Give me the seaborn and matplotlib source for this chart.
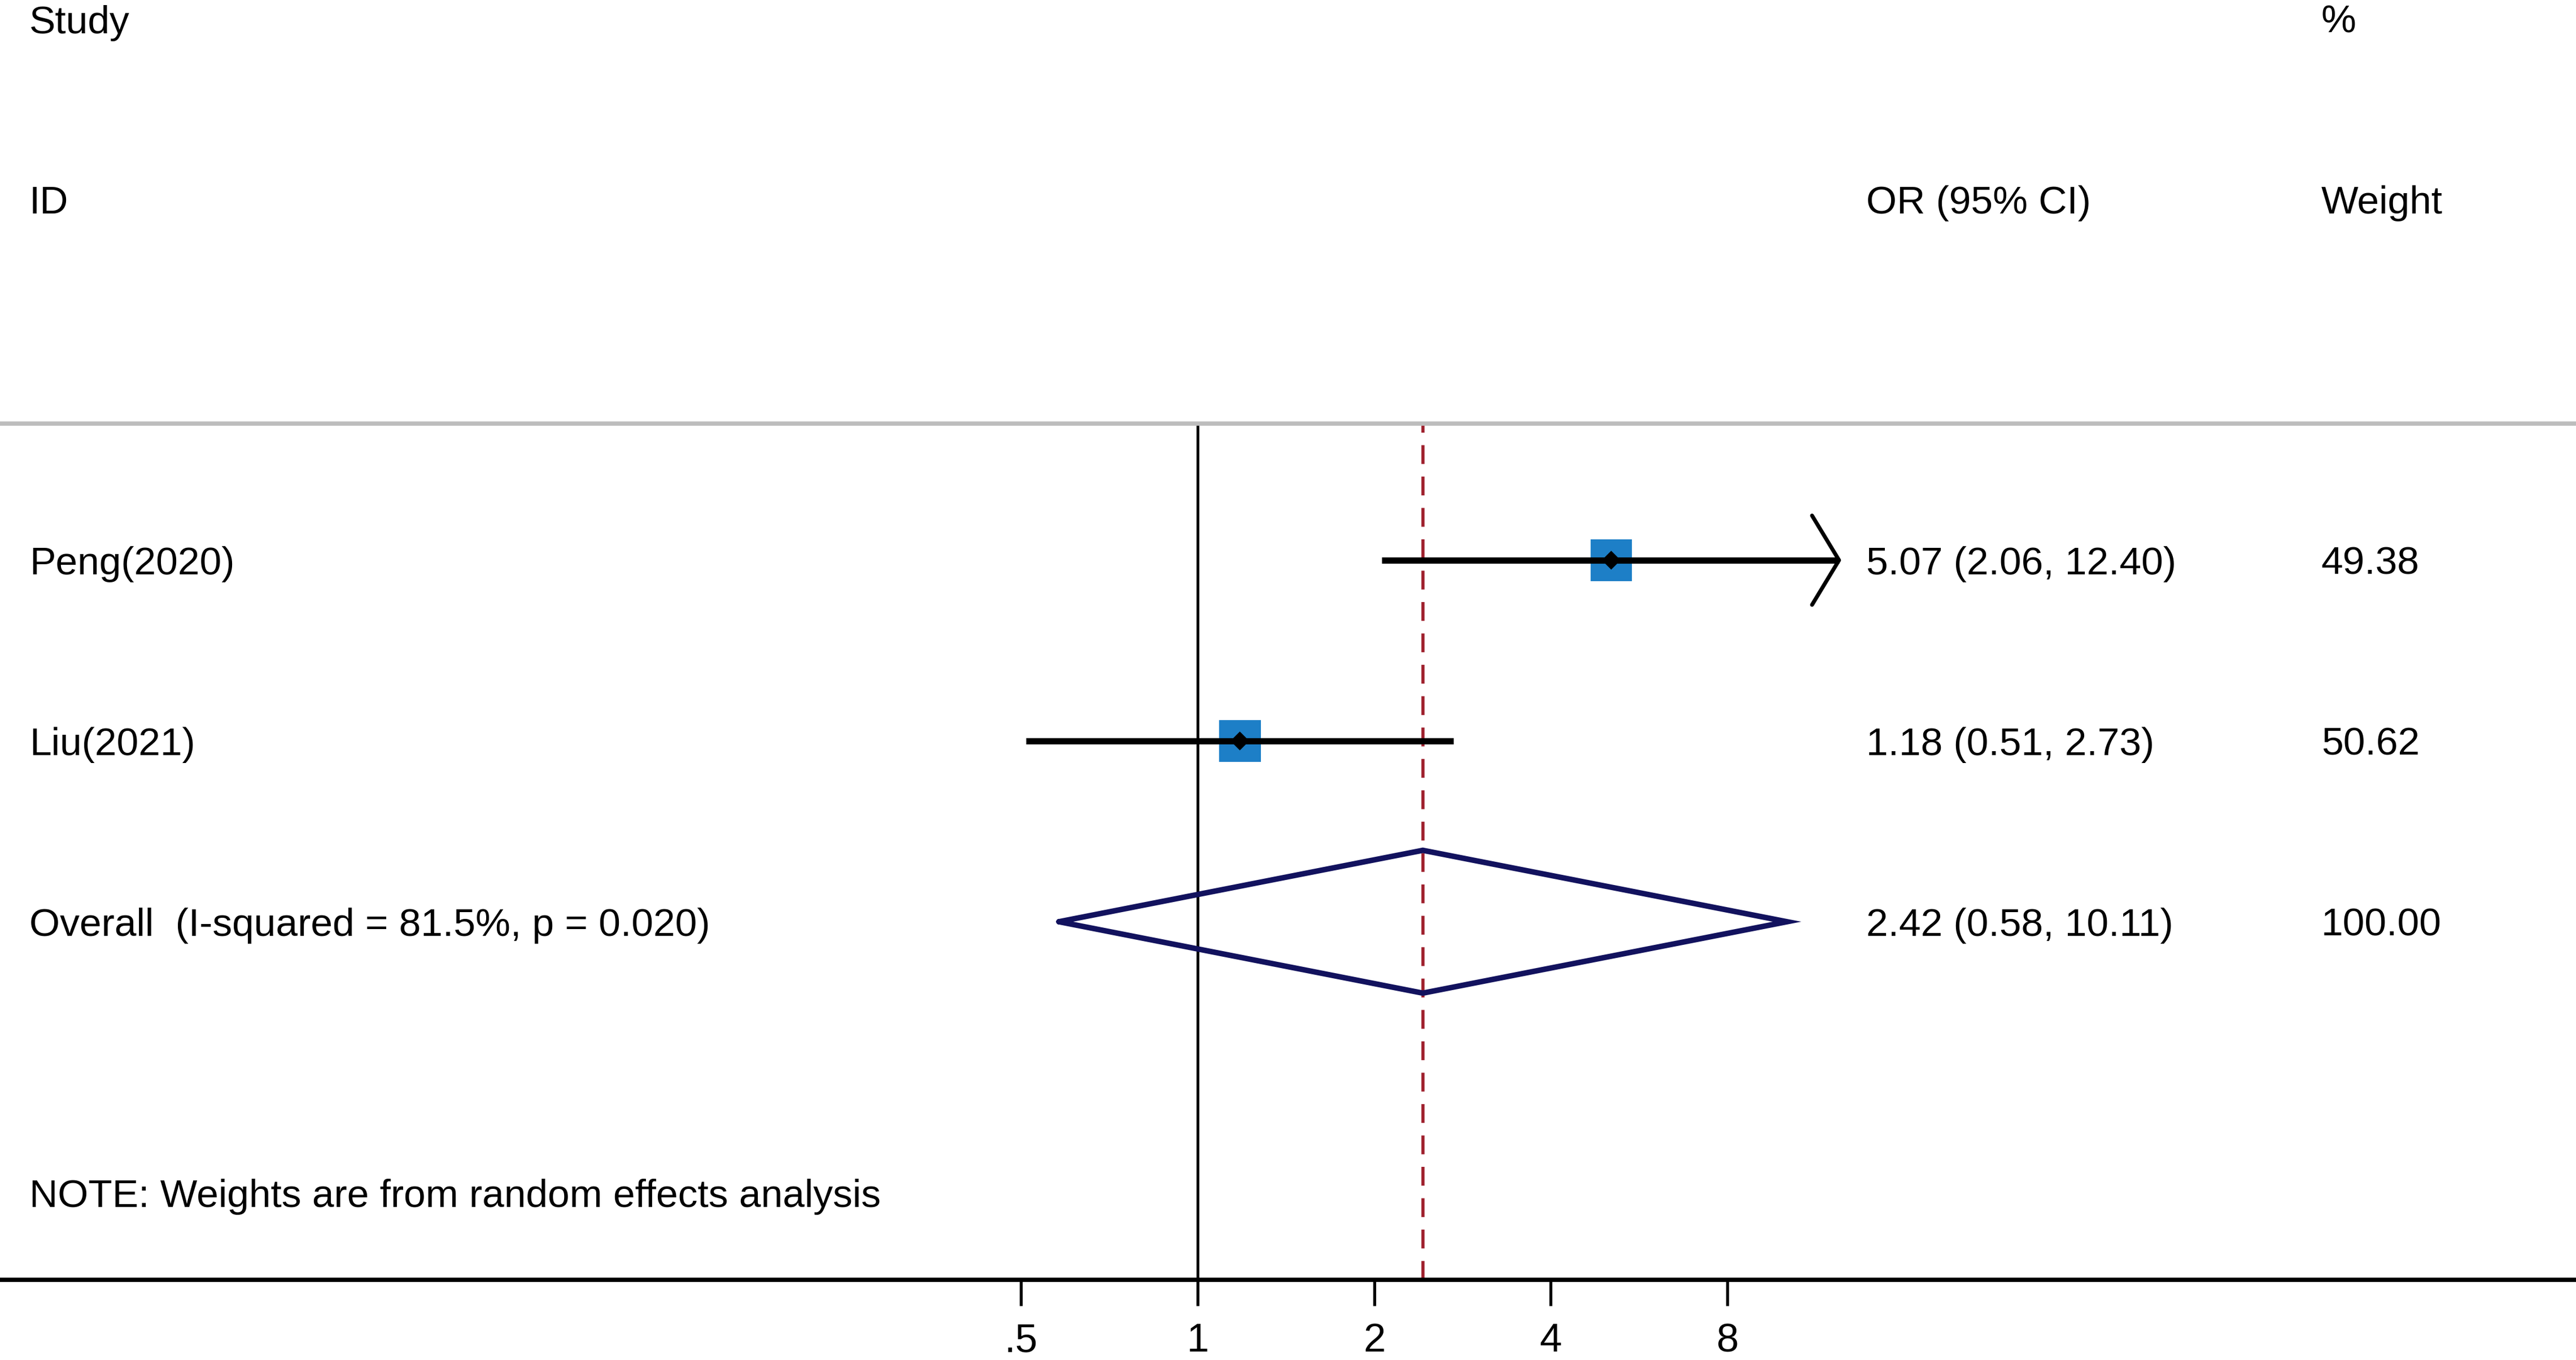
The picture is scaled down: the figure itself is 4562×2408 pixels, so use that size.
"""Forest plot: OR (95% CI) for two studies with random effects pooled estimate."""
import numpy as np
import pandas as pd
import seaborn as sns
from matplotlib import pyplot as plt
from matplotlib import transforms

studies = ["Peng(2020)", "Liu(2021)"]
study_or = [5.07, 1.18]
study_lo = [2.06, 0.51]
study_hi = [12.40, 2.73]
study_weight = [49.38, 50.62]

overall_label = "Overall  (I-squared = 81.5%, p = 0.020)"
overall_or = 2.42
overall_lo = 0.58
overall_hi = 10.11
overall_weight = 100.00

note_text = "NOTE: Weights are from random effects analysis"
tick_values = [0.5, 1, 2, 4, 8]
tick_labels = [".5", "1", "2", "4", "8"]
arrow_limit = 8.0  # CIs above this get an arrowhead

SQUARE_BLUE = "#1d7fc7"
DIAMOND_NAVY = "#12125e"
DASH_RED = "#9e1f2c"
FS = 50


def main() -> None:
    sns.set_theme(style="white")
    plt.rcParams["font.family"] = ["Liberation Sans", "DejaVu Sans"]
    plt.rcParams["text.color"] = "black"

    fig = plt.figure(figsize=(45.62, 24.08), dpi=100)
    ax = fig.add_axes([0.0, 0.05897, 1.0, 0.6296])

    rows = np.arange(1, len(studies) + 1)
    overall_row = len(studies) + 1
    note_row = overall_row + 1.5

    df = pd.DataFrame({"study": studies, "or": study_or, "row": rows})

    # squares (drawn first, CI line goes over them)
    sns.scatterplot(data=df, x="or", y="row", marker="s", s=53 ** 2,
                    color=SQUARE_BLUE, edgecolor="none", ax=ax, zorder=3,
                    legend=False)

    # CI lines, with open arrowhead where the CI runs off the axis scale
    for r, lo, hi in zip(rows, study_lo, study_hi):
        ax.plot([lo, hi], [r, r], color="black", lw=8, solid_capstyle="butt",
                zorder=4)
        if hi > arrow_limit:
            back = hi / 2 ** 0.153
            ax.plot([back, hi, back], [r - 0.247, r, r + 0.247],
                    color="black", lw=5, zorder=4)

    sns.scatterplot(data=df, x="or", y="row", marker="D", s=17 ** 2,
                    color="black", edgecolor="none", ax=ax, zorder=5,
                    legend=False)

    # pooled diamond
    h = 0.395
    ax.plot([overall_lo, overall_or, overall_hi, overall_or, overall_lo],
            [overall_row, overall_row - h, overall_row, overall_row + h, overall_row],
            color=DIAMOND_NAVY, lw=7, zorder=4, solid_joinstyle="miter")

    ax.axvline(1, color="black", lw=3.6, zorder=2)
    ax.axvline(overall_or, color=DASH_RED, lw=4, dashes=(6, 4), zorder=2)

    ax.set_xscale("log", base=2)
    ax.set_xlim(2 ** -6.783, 2 ** 7.806)
    ax.set_ylim(4.981, 0.244)
    ax.set_xticks(tick_values)
    ax.set_xticklabels(tick_labels)
    ax.minorticks_off()
    ax.set_yticks([])
    ax.set_xlabel("")
    ax.set_ylabel("")
    ax.tick_params(axis="x", bottom=True, length=33, width=3.8, pad=22,
                   labelsize=FS + 1, colors="black")

    for side in ["left", "right"]:
        ax.spines[side].set_visible(False)
    ax.spines["top"].set_color("#bdbdbd")
    ax.spines["top"].set_linewidth(5.5)
    ax.spines["bottom"].set_color("black")
    ax.spines["bottom"].set_linewidth(5.5)

    # text columns (x in axes fraction, y in rows)
    trans = transforms.blended_transform_factory(ax.transAxes, ax.transData)
    x_label, x_est, x_wt = 0.0114, 0.7245, 0.9011
    base = 0.078
    for r, name, o, lo, hi, w in zip(rows, studies, study_or, study_lo,
                                     study_hi, study_weight):
        ax.text(x_label, r + base, name, transform=trans, fontsize=FS,
                va="baseline")
        ax.text(x_est, r + base, f"{o:.2f} ({lo:.2f}, {hi:.2f})",
                transform=trans, fontsize=FS, va="baseline")
        ax.text(x_wt, r + base, f"{w:.2f}", transform=trans, fontsize=FS,
                va="baseline")
    ax.text(x_label, overall_row + base, overall_label, transform=trans,
            fontsize=FS, va="baseline")
    ax.text(x_est, overall_row + base,
            f"{overall_or:.2f} ({overall_lo:.2f}, {overall_hi:.2f})",
            transform=trans, fontsize=FS, va="baseline")
    ax.text(x_wt, overall_row + base, f"{overall_weight:.2f}",
            transform=trans, fontsize=FS, va="baseline")
    ax.text(x_label, note_row + base, note_text, transform=trans,
            fontsize=FS, va="baseline")

    # header
    fig.text(x_label, 0.9755, "Study", fontsize=FS, va="baseline")
    fig.text(x_wt, 0.9763, "%", fontsize=FS, va="baseline")
    fig.text(x_label, 0.843, "ID", fontsize=FS, va="baseline")
    fig.text(x_est, 0.843, "OR (95% CI)", fontsize=FS, va="baseline")
    fig.text(x_wt, 0.843, "Weight", fontsize=FS, va="baseline")

    fig.savefig("out.png", dpi=100, facecolor="white")
    plt.close(fig)


if __name__ == "__main__":
    main()
